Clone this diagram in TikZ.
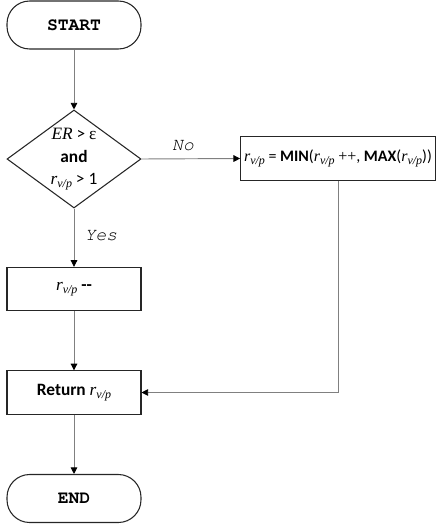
\documentclass[tikz,border=0pt]{standalone}
\usepackage{fontspec}
\setmainfont{Carlito}
\newfontfamily\tms{Liberation Serif}
\newfontfamily\cursorfont{texgyrecursor}[Extension=.otf,UprightFont=*-regular,BoldFont=*-bold,ItalicFont=*-italic,BoldItalicFont=*-bolditalic]
\usetikzlibrary{shapes.geometric,arrows.meta}
\newcommand\rvp{{\tms\itshape r\raisebox{-0.35ex}{\fontsize{9}{9}\selectfont v/p}}}
\begin{document}
\begin{tikzpicture}[x=0.75pt,y=-0.75pt,
  every node/.style={font=\fontsize{13}{15}\selectfont},
  boxstyle/.style={draw=black!85,line width=0.8pt,rectangle,minimum width=100.5pt,minimum height=32.5pt,inner sep=0pt},
  termstyle/.style={draw=black!85,line width=0.8pt,rectangle,rounded corners=17pt,minimum width=100.5pt,minimum height=36pt,inner sep=0pt,font=\cursorfont\bfseries\fontsize{13.5}{15}\selectfont},
  decstyle/.style={draw=black!85,line width=0.8pt,diamond,minimum width=100.5pt,minimum height=73.5pt,inner sep=0pt},
  conn/.style={draw=black!50,line width=0.7pt,-{Triangle[length=5pt,width=5pt,fill=black,color=black]}},
  lbl/.style={font=\cursorfont\itshape\fontsize{13.5}{15}\selectfont,text=black}
]
\useasboundingbox (0,0) rectangle (436,525);
\node[termstyle] (start) at (74,25) {START};
\node[decstyle] (dec) at (74,159) {};
\node[align=center,inner sep=0pt,font=\fontsize{13}{16.5}\selectfont] (dectext) at (74,159) {{\tms\itshape ER} > {\tms ε}\\[0.5pt]\textbf{and}\\[0.5pt]\rvp{} > 1};
\node[boxstyle,minimum width=146pt,font=\fontsize{12}{14}\selectfont] (mm) at (338,158.5) {\rvp{} = \textbf{MIN}(\rvp{} {\tms ++}, \textbf{MAX}(\rvp))};
\node[boxstyle] (decr) at (74,289) {\rvp{} \textbf{-{}-}};
\node[boxstyle] (ret) at (74,392.5) {\textbf{Return} \rvp};
\node[termstyle] (end) at (74,498.5) {END};
\draw[conn] (start) -- (dec);
\draw[conn] (dec.east) -- (mm.west);
\node[lbl] (no) at (183,146) {No};
\draw[conn] (dec.south) -- (decr.north);
\node[lbl] (yes) at (101,236) {Yes};
\draw[conn] (decr) -- (ret);
\draw[conn] (mm.south) |- (ret.east);
\draw[conn] (ret) -- (end);
\end{tikzpicture}
\end{document}
